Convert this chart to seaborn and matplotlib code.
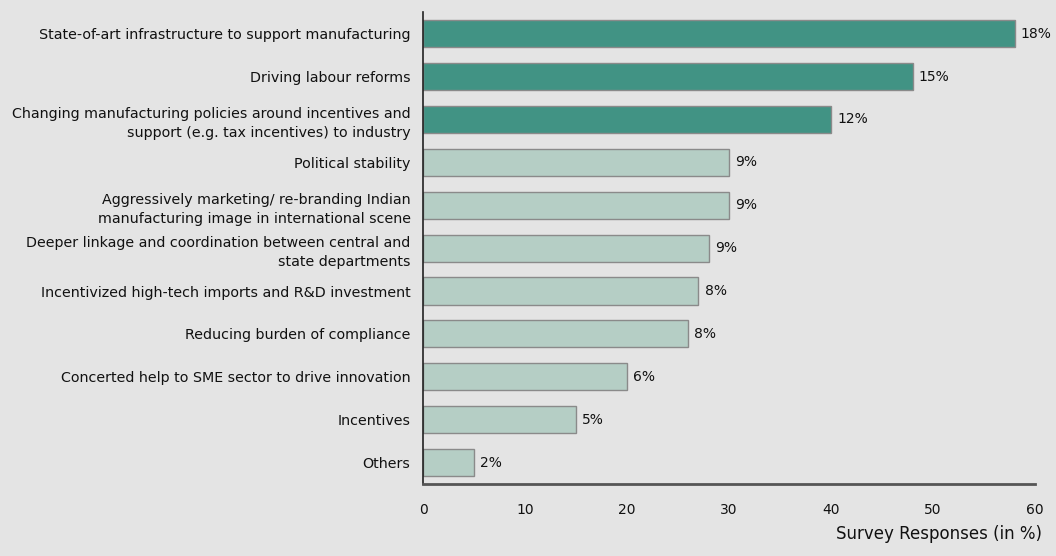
import matplotlib
matplotlib.use("Agg")
import matplotlib.pyplot as plt
import seaborn as sns
import pandas as pd

categories = [
    "State-of-art infrastructure to support manufacturing",
    "Driving labour reforms",
    "Changing manufacturing policies around incentives and\nsupport (e.g. tax incentives) to industry",
    "Political stability",
    "Aggressively marketing/ re-branding Indian\nmanufacturing image in international scene",
    "Deeper linkage and coordination between central and\nstate departments",
    "Incentivized high-tech imports and R&D investment",
    "Reducing burden of compliance",
    "Concerted help to SME sector to drive innovation",
    "Incentives",
    "Others",
]
responses = [58, 48, 40, 30, 30, 28, 27, 26, 20, 15, 5]
pct_labels = ["18%", "15%", "12%", "9%", "9%", "9%", "8%", "8%", "6%", "5%", "2%"]
highlight = [True, True, True, False, False, False, False, False, False, False, False]

dark = "#419384"
light = "#b5cec5"
bg = "#e4e4e4"

df = pd.DataFrame({"category": categories, "responses": responses})
palette = {c: (dark if h else light) for c, h in zip(categories, highlight)}

sns.set_style("white")
plt.rcParams["font.family"] = ["DejaVu Sans"]

fig = plt.figure(figsize=(10.56, 5.56), dpi=100, facecolor=bg)
ax = fig.add_axes([0.4006, 0.1295, 0.5795, 0.8485])
ax.set_facecolor(bg)

sns.barplot(data=df, x="responses", y="category", hue="category", palette=palette,
            legend=False, width=0.63, edgecolor="#8a8a8a", linewidth=1.0, ax=ax,
            orient="h", saturation=1)

for i, (v, lab) in enumerate(zip(responses, pct_labels)):
    ax.text(v + 0.6, i, lab, va="center", ha="left", fontsize=10, color="#111111")

ax.set_xlim(0, 60)
ax.set_ylim(len(categories) - 0.5, -0.5)
ax.set_xticks([0, 10, 20, 30, 40, 50, 60])
ax.tick_params(axis="both", length=0, colors="#111111")
ax.tick_params(axis="x", pad=14, labelsize=10)
ax.tick_params(axis="y", pad=9, labelsize=10.3)
for t in ax.get_yticklabels():
    t.set_linespacing(1.45)
ax.set_ylabel("")
ax.set_xlabel("")
for s in ["top", "right"]:
    ax.spines[s].set_visible(False)
ax.spines["left"].set_color("#222222")
ax.spines["left"].set_linewidth(1.2)
ax.spines["bottom"].set_color("#555555")
ax.spines["bottom"].set_linewidth(2)

fig.text(0.987, 0.03, "Survey Responses (in %)", ha="right", va="baseline", fontsize=12, color="#111111")

fig.savefig("out.png", dpi=100, facecolor=bg)
